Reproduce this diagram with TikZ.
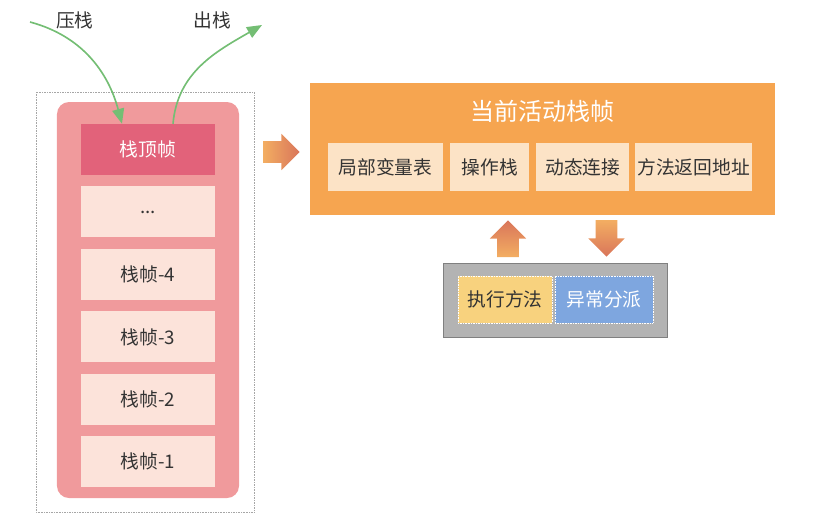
\documentclass[tikz,border=0pt]{standalone}
\usepackage{fontspec}
\setmainfont{Noto Sans CJK SC}
\usepackage{tikz}
\usetikzlibrary{positioning, arrows.meta, shapes.arrows}

\definecolor{stackpink}{HTML}{F09A9C}
\definecolor{toppink}{HTML}{E2627A}
\definecolor{framelight}{HTML}{FCE3DA}
\definecolor{activeorange}{HTML}{F6A550}
\definecolor{partpeach}{HTML}{FCE3C6}
\definecolor{boxgray}{HTML}{B3B3B3}
\definecolor{execyellow}{HTML}{F8D27E}
\definecolor{excblue}{HTML}{7EA6DF}
\definecolor{flowgreen}{HTML}{74BE74}
\definecolor{textgray}{HTML}{333333}
\definecolor{arrowlight}{HTML}{F3AE62}
\definecolor{arrowdark}{HTML}{D9755A}

\begin{document}
\begin{tikzpicture}[
      x=0.3mm, y=-0.3mm, % one unit is one pixel of the sketch
      font=\fontsize{16}{18}\selectfont,
      text=textgray,
      frame/.style={fill=framelight, minimum width=40.2mm, minimum height=15.3mm, inner sep=0pt},
      topframe/.style={frame, fill=toppink, text=white},
      part/.style={fill=partpeach, minimum height=14.4mm, inner sep=0pt},
      fatarrow/.style={single arrow, inner xsep=0pt, inner ysep=3.2mm, minimum height=11mm,
                       single arrow head extend=2.2mm, anchor=tip},
      flow/.style={-{Triangle[length=4.5mm,width=3.6mm]}, line width=1.4pt, flowgreen},
    ]
    \useasboundingbox (0,0) rectangle (815,530);

    % ---- the stack ------------------------------------------------------
    \draw[gray!70, densely dotted] (36,92) rectangle (254,512);
    \node[fill=stackpink, rounded corners=3.6mm, minimum width=54.6mm, minimum height=118.8mm]
      (stack) at (148,300) {};

    \node[topframe] (top) at (148,149.5) {栈顶帧};
    \node[frame, below=3.3mm of top] (dots) {...};
    \node[frame, below=3.3mm of dots] (f4) {栈帧-4};
    \node[frame, below=3.3mm of f4] (f3) {栈帧-3};
    \node[frame, below=3.3mm of f3] (f2) {栈帧-2};
    \node[frame, below=3.3mm of f2] (f1) {栈帧-1};

    % ---- push and pop ---------------------------------------------------
    \node (pushlbl) at (75,20) {压栈};
    \node (poplbl) at (212,20) {出栈};
    \coordinate (pushsrc) at (30,22);
    \coordinate (popdst) at (262,25);
    \draw[flow] (pushsrc) to[out=-15, in=105] ([xshift=-7.8mm]top.north);
    \draw[flow] ([xshift=7.5mm]top.north) to[out=85, in=-150] (popdst);

    % ---- current frame --------------------------------------------------
    \node[fill=activeorange, minimum width=139.5mm, minimum height=39.6mm] (active) at (542.5,149) {};
    \node[text=white, font=\fontsize{20.5}{22}\selectfont] (title) at (542.5,111) {当前活动栈帧};
    \node[part, minimum width=34.5mm] (locals) at (385.5,167) {局部变量表};
    \node[part, minimum width=23.7mm, right=2mm of locals] (operand) {操作栈};
    \node[part, minimum width=27.9mm, right=2mm of operand] (dynlink) {动态连接};
    \node[part, minimum width=35.1mm, right=1.6mm of dynlink] (retaddr) {方法返回地址};

    \node[fatarrow, left color=arrowlight, right color=arrowdark] (toactive) at (300,152) {};

    % ---- execute / dispatch ---------------------------------------------
    \node[fill=boxgray, draw=gray, minimum width=67.2mm, minimum height=22.2mm] (engine) at (555,300) {};
    \node[fill=execyellow, draw=white, densely dotted, minimum width=28.2mm, minimum height=14.1mm]
      (exec) at (505,299.5) {执行方法};
    \node[fill=excblue, draw=white, densely dotted, text=white, minimum width=29.4mm, minimum height=14.1mm]
      (dispatch) at (604,299.5) {异常分派};

    \node[fatarrow, rotate=90, top color=arrowdark, bottom color=arrowlight] (up) at (508,220) {};
    \node[fatarrow, rotate=-90, top color=arrowlight, bottom color=arrowdark] (down) at (606.5,257) {};
  \end{tikzpicture}
\end{document}
